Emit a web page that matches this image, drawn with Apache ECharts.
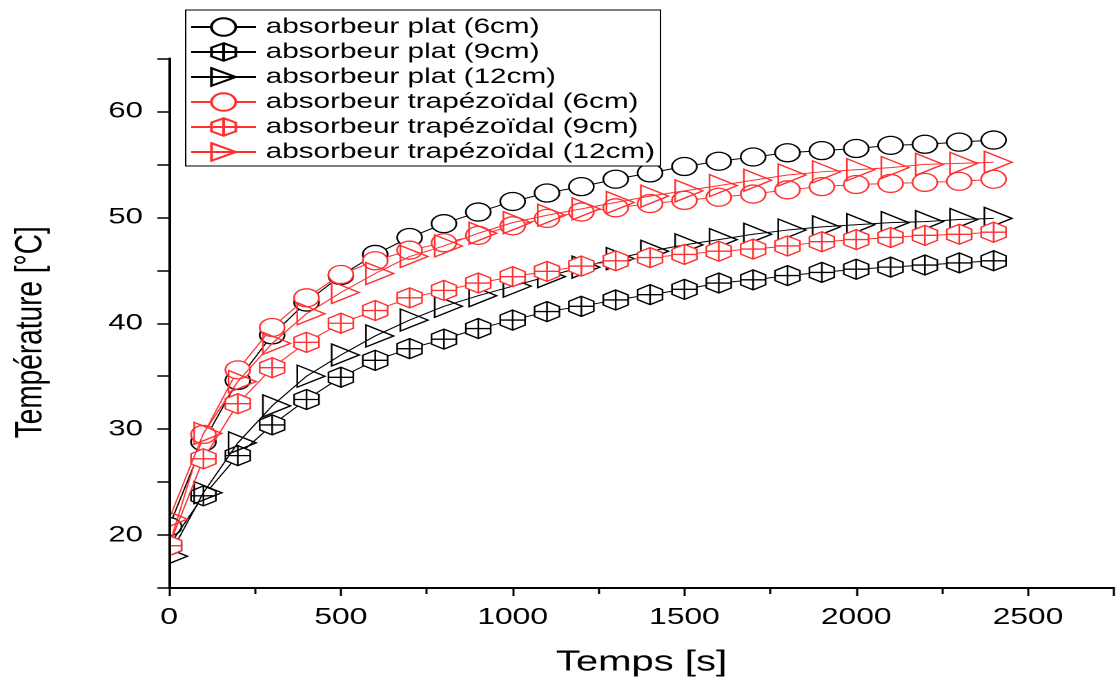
<!DOCTYPE html>
<html>
<head>
<meta charset="utf-8">
<script src="https://cdn.jsdelivr.net/npm/echarts@6/dist/echarts.min.js"></script>
<style>
  html, body { margin: 0; padding: 0; background: #fff; overflow: hidden; }
  #chart { width: 810px; height: 682px; transform: scaleX(1.38025); transform-origin: 0 0; }
</style>
</head>
<body>
<div id="chart"></div>
<script>
// ---- data ----
const times = [0, 100, 200, 300, 400, 500, 600, 700, 800, 900, 1000, 1100, 1200,
  1300, 1400, 1500, 1600, 1700, 1800, 1900, 2000, 2100, 2200, 2300, 2400];

const seriesNames = [
  'absorbeur plat (6cm)',
  'absorbeur plat (9cm)',
  'absorbeur plat (12cm)',
  'absorbeur trapézoïdal (6cm)',
  'absorbeur trapézoïdal (9cm)',
  'absorbeur trapézoïdal (12cm)'
];

const plat6 = [20.8, 28.8, 34.6, 38.9, 42.0, 44.5, 46.5, 48.1, 49.4, 50.5, 51.5, 52.3, 52.9,
  53.6, 54.2, 54.8, 55.3, 55.7, 56.1, 56.3, 56.5, 56.8, 56.9, 57.1, 57.3];
const plat9 = [19.0, 23.7, 27.5, 30.4, 32.8, 34.9, 36.5, 37.6, 38.5, 39.5, 40.3, 41.1, 41.6,
  42.2, 42.7, 43.2, 43.8, 44.1, 44.5, 44.8, 45.1, 45.3, 45.5, 45.7, 45.9];
const plat12 = [18.0, 24.0, 28.7, 32.2, 35.0, 37.0, 38.8, 40.3, 41.6, 42.6, 43.5, 44.4, 45.3,
  46.1, 46.8, 47.4, 47.9, 48.4, 48.8, 49.1, 49.3, 49.5, 49.6, 49.8, 49.9];
const trap6 = [19.0, 29.5, 35.6, 39.6, 42.4, 44.6, 45.9, 46.9, 47.6, 48.3, 49.2, 49.9, 50.5,
  50.9, 51.3, 51.6, 51.9, 52.2, 52.6, 52.9, 53.1, 53.2, 53.3, 53.4, 53.6];
const trap9 = [19.0, 27.2, 32.4, 35.8, 38.2, 40.0, 41.2, 42.4, 43.1, 43.8, 44.4, 44.9, 45.4,
  45.9, 46.2, 46.5, 46.8, 47.0, 47.3, 47.7, 47.9, 48.1, 48.3, 48.4, 48.6];
const trap12 = [21.5, 29.6, 34.5, 38.1, 40.9, 42.9, 44.7, 46.3, 47.3, 48.5, 49.5, 50.2, 50.8,
  51.4, 52.0, 52.5, 53.0, 53.5, 54.0, 54.3, 54.5, 54.7, 55.0, 55.1, 55.2];

const xTicksLabelled = [0, 500, 1000, 1500, 2000, 2500];
const yTicksLabelled = [20, 30, 40, 50, 60];

// ---- styling ----
const FONT = 'Liberation Sans, Arial, Helvetica, sans-serif';
const BLACK = '#000000';
const RED = '#ff3030';
const HEX = 'path://M10,0 L18.66,5 L18.66,15 L10,20 L1.34,15 L1.34,5 Z M10,0 L10,20 M1.34,10 L18.66,10';
const TRI = 'path://M0,0 L20,11 L0,22 Z';
const GRID_LEFT = 122.5;

const markerDefs = [
  { data: plat6, color: BLACK, symbol: 'circle', size: 18, fill: '#fff' },
  { data: plat9, color: BLACK, symbol: HEX, size: [18, 20], fill: '#fff' },
  { data: plat12, color: BLACK, symbol: TRI, size: [20, 22], fill: 'rgba(255,255,255,0)', offset: [3.3, 0] },
  { data: trap6, color: RED, symbol: 'circle', size: 18, fill: '#fff' },
  { data: trap9, color: RED, symbol: HEX, size: [18, 20], fill: '#fff' },
  { data: trap12, color: RED, symbol: TRI, size: [20, 22], fill: 'rgba(255,255,255,0)', offset: [3.3, 0] }
];

const series = markerDefs.map((d, i) => ({
  name: seriesNames[i],
  type: 'line',
  data: times.map((t, k) => [t, d.data[k]]),
  symbol: d.symbol,
  symbolSize: d.size,
  symbolOffset: d.offset || [0, 0],
  showAllSymbol: true,
  lineStyle: { color: d.color, width: 1 },
  itemStyle: { color: d.fill, borderColor: d.color, borderWidth: 1.3 },
  emphasis: { disabled: true },
  z: 2 + i
}));

const chart = echarts.init(document.getElementById('chart'), null, { devicePixelRatio: 2 });
chart.setOption({
  animation: false,
  backgroundColor: '#fff',
  textStyle: { fontFamily: FONT },
  grid: { left: GRID_LEFT, right: -3.4, top: 58.5, bottom: 88.5, containLabel: false },
  // white mask left of the y axis: markers are clipped at the axis as in the original plot
  graphic: [{
    type: 'rect', z: 20, silent: true,
    shape: { x: 0, y: 40, width: GRID_LEFT - 0.5, height: 560 },
    style: { fill: '#fff' }
  }],
  legend: {
    orient: 'vertical',
    left: 134.5,
    top: 10,
    z: 40,
    padding: [6, 4, 3, 3],
    backgroundColor: '#fff',
    borderColor: '#000',
    borderWidth: 1,
    borderRadius: 0,
    itemWidth: 47,
    itemHeight: 22,
    itemGap: 3,
    selectedMode: false,
    textStyle: { fontSize: 21.5, color: '#000', fontFamily: FONT, padding: [0, 0, 0, 2] },
    data: seriesNames
  },
  xAxis: {
    type: 'value',
    z: 30,
    min: 0,
    max: 2750,
    interval: 500,
    name: 'Temps [s]',
    nameLocation: 'middle',
    nameGap: 60,
    nameTextStyle: { fontSize: 29, color: '#000', fontFamily: FONT },
    axisLine: { show: true, onZero: false, lineStyle: { color: '#000', width: 2 } },
    axisTick: { show: true, inside: false, length: 8, lineStyle: { color: '#000', width: 1.5 } },
    minorTick: { show: true, splitNumber: 2, length: 6, lineStyle: { color: '#000', width: 1.5 } },
    splitLine: { show: false },
    minorSplitLine: { show: false },
    axisLabel: {
      fontSize: 23, color: '#000', margin: 18, fontFamily: FONT,
      formatter: v => (xTicksLabelled.indexOf(v) >= 0 ? String(v) : '')
    }
  },
  yAxis: {
    type: 'value',
    z: 30,
    min: 15,
    max: 65,
    interval: 5,
    name: 'Température [°C]',
    nameLocation: 'middle',
    nameGap: 86,
    nameTextStyle: { fontSize: 28, color: '#000', fontFamily: FONT, padding: [0, 18, 0, 0] },
    axisLine: { show: true, onZero: false, lineStyle: { color: '#000', width: 2 } },
    axisTick: { show: true, inside: false, length: 8.5, lineStyle: { color: '#000', width: 1.5 } },
    splitLine: { show: false },
    axisLabel: {
      fontSize: 22.5, color: '#000', margin: 19, fontFamily: FONT,
      formatter: v => (yTicksLabelled.indexOf(v) >= 0 ? String(v) : '')
    }
  },
  series: series
});
</script>
</body>
</html>
